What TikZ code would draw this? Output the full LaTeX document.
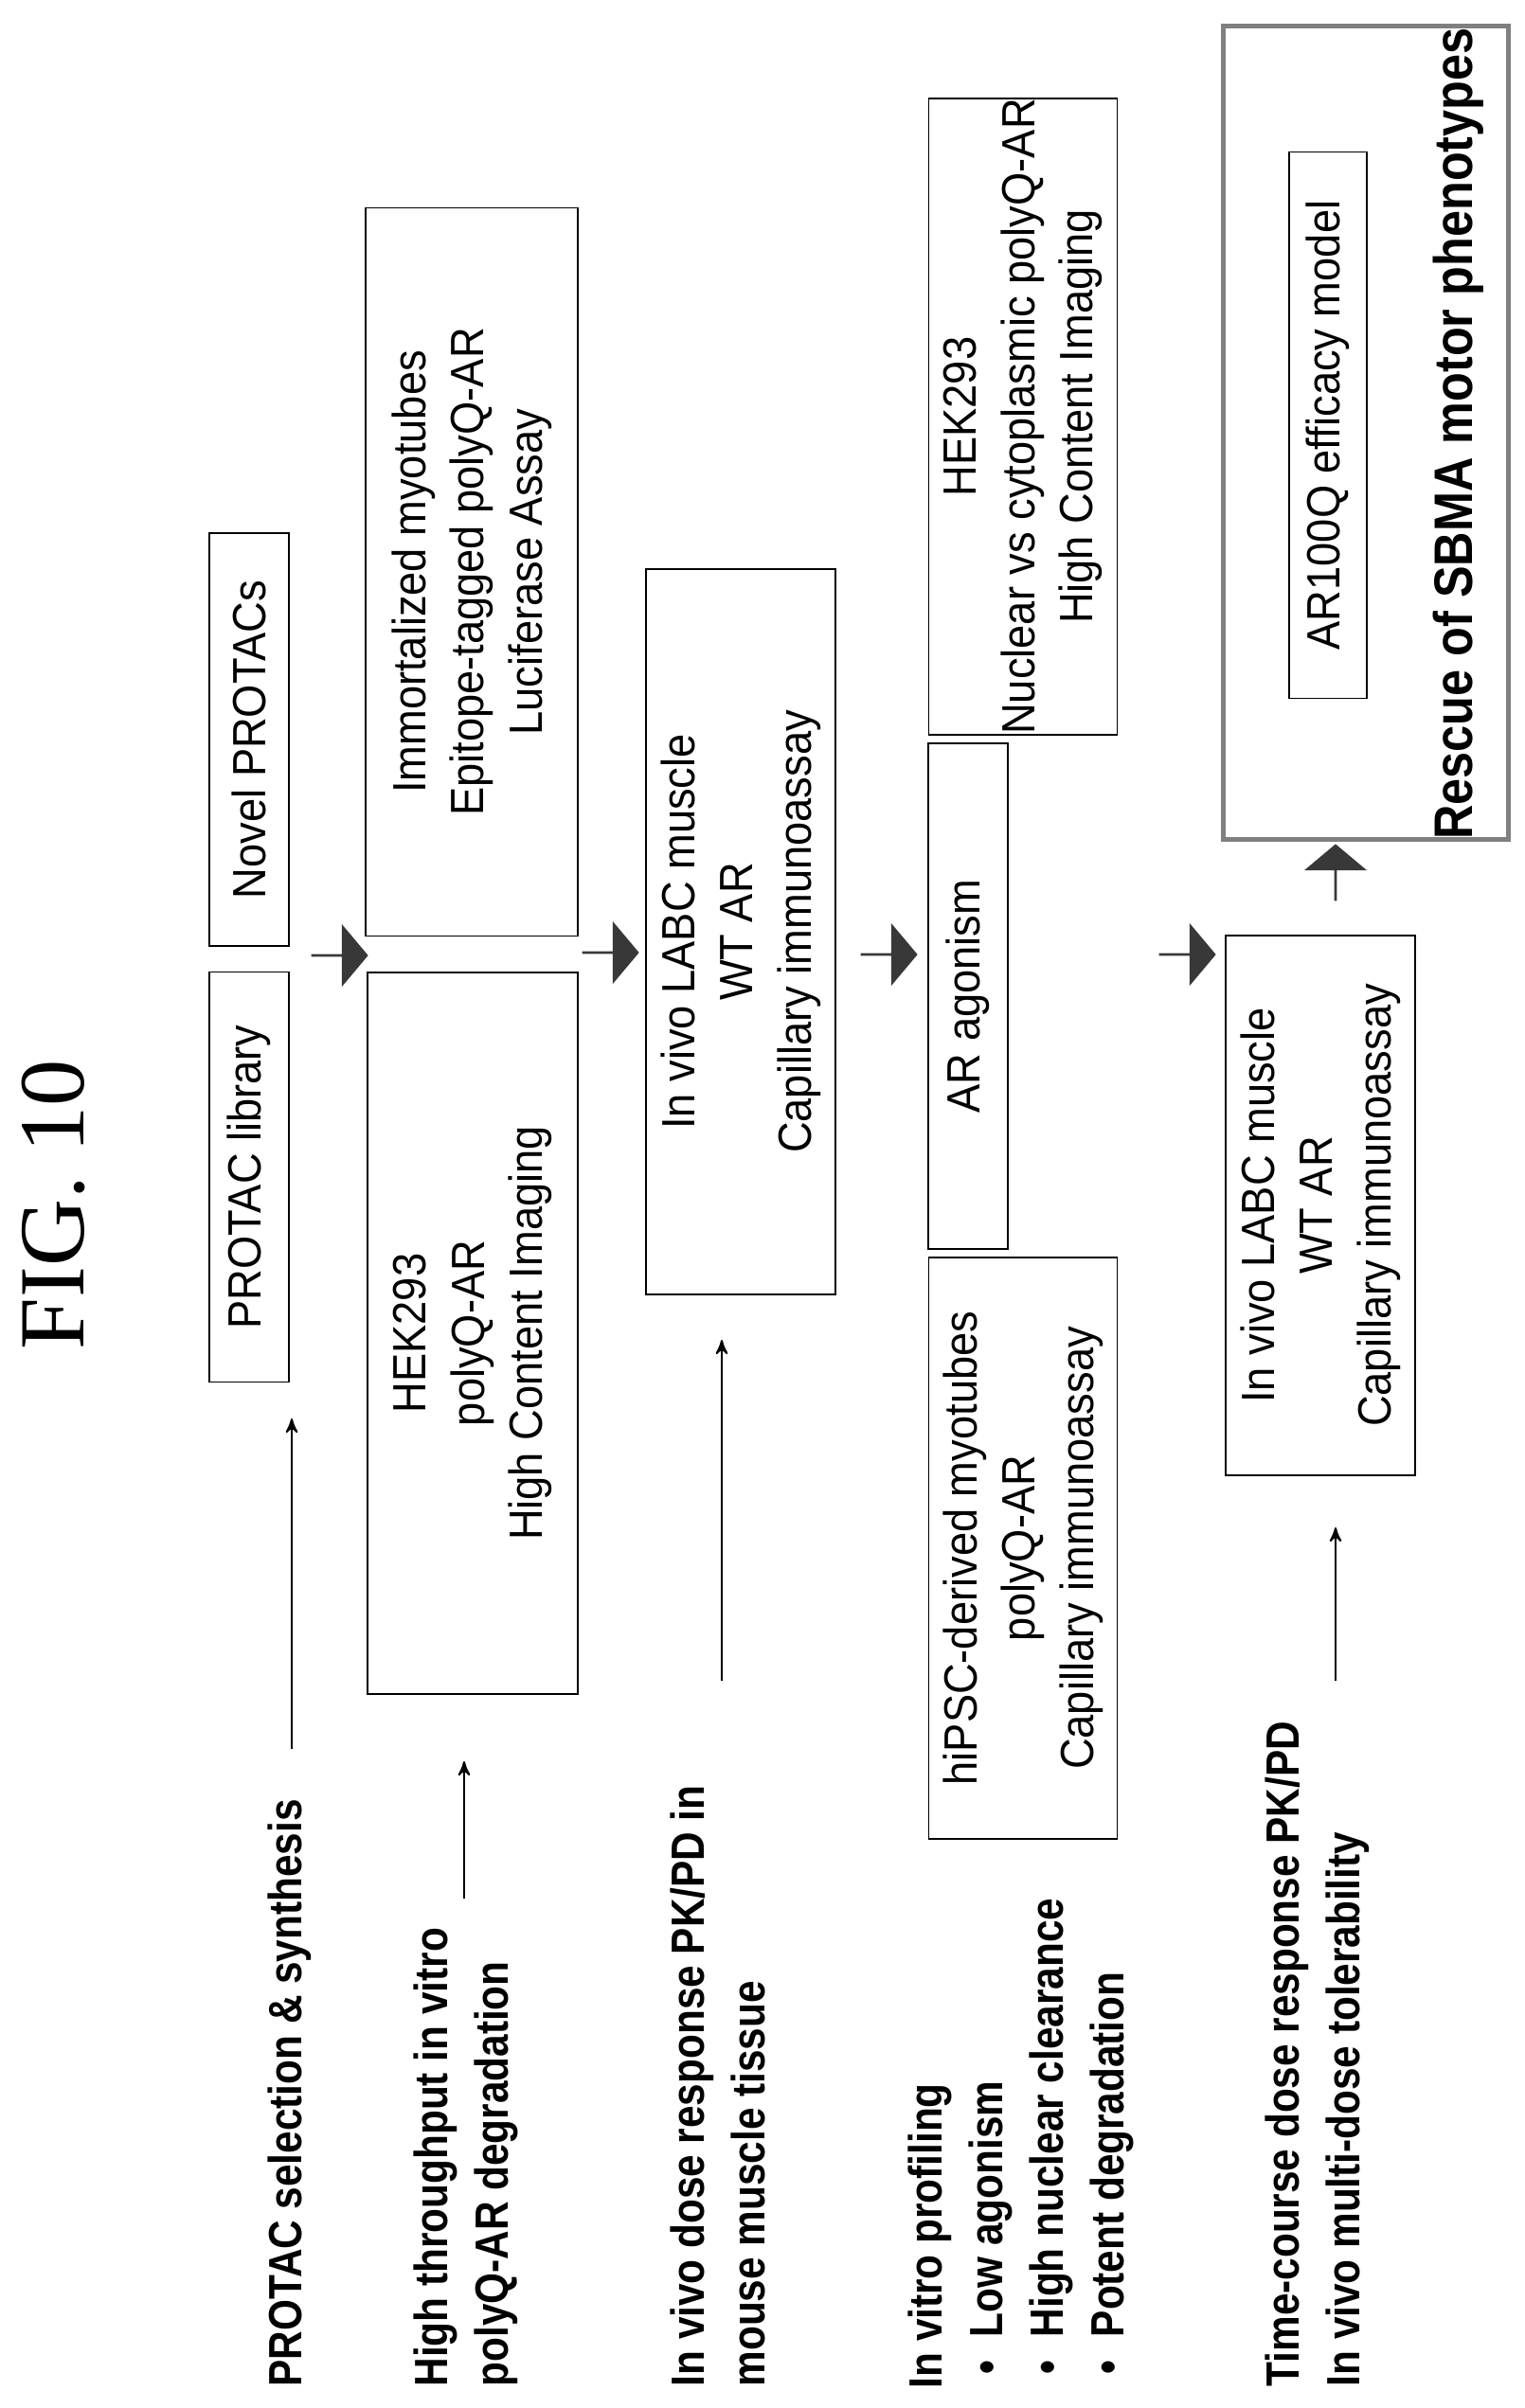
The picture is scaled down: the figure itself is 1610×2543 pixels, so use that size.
\documentclass[tikz,border=0pt]{standalone}
\usepackage{fontspec}
\setmainfont{Liberation Sans}
\newfontfamily\boxfont[FakeStretch=0.92]{Liberation Sans}
\newfontfamily\labfont[FakeStretch=0.86]{Liberation Sans}
\newfontfamily\goalfont[FakeStretch=0.88]{Liberation Sans}
\newfontfamily\figfont{Liberation Serif}
\usetikzlibrary{shapes.arrows, arrows}
\tikzset{x=0.1mm, y=-0.1mm,
  stepbox/.style={draw, rotate=90, align=center, inner sep=0pt, line width=0.5pt,
    font=\boxfont\fontsize{14pt}{17.5pt}\selectfont},
  stage/.style={rotate=90, anchor=west, align=left, inner sep=0pt,
    font=\labfont\bfseries\fontsize{14pt}{18.2pt}\selectfont},
  fat/.style={single arrow, fill=black!78, inner sep=0pt, minimum width=6.6mm,
    single arrow head extend=1.5mm, single arrow tip angle=100, minimum height=6mm},
  thinarrow/.style={->, >=stealth', line width=0.6pt}}

\begin{document}
\begin{tikzpicture}
\useasboundingbox (0,0) rectangle (1610,2543);
\node[rotate=90, font=\figfont\fontsize{28pt}{30pt}\selectfont] (fig) at (56,1272) {FIG. 10};
% stage labels
\node[stage] (lab1) at (306,2521) {PROTAC selection \& synthesis};
\node[stage] (lab2) at (492,2521) {High throughput in vitro\\polyQ-AR degradation};
\node[stage] (lab3) at (758,2521) {In vivo dose response PK/PD in\\mouse muscle tissue};
\node[stage] (lab4) at (1078,2523) {In vitro profiling\\
  \hspace{0.3em}\textbullet\hspace{0.5em}Low agonism\\
  \hspace{0.3em}\textbullet\hspace{0.5em}High nuclear clearance\\
  \hspace{0.3em}\textbullet\hspace{0.5em}Potent degradation};
\node[stage] (lab5) at (1391,2521) {Time-course dose response PK/PD\\In vivo multi-dose tolerability};
% boxes
\node[stepbox, minimum width=43.3mm, minimum height=8.4mm] (lib) at (263,1243) {PROTAC library};
\node[stepbox, minimum width=43.6mm, minimum height=8.4mm] (novel) at (263,781) {Novel PROTACs};
\node[stepbox, minimum width=76.2mm, minimum height=22.2mm] (hek) at (499,1408) {HEK293\\polyQ-AR\\High Content Imaging};
\node[stepbox, minimum width=76.9mm, minimum height=22.4mm] (myo) at (498,604) {Immortalized myotubes\\Epitope-tagged polyQ-AR\\Luciferase Assay};
\node[stepbox, minimum width=76.6mm, minimum height=20mm] (labc) at (782,984) {In vivo LABC muscle\\WT AR\\Capillary immunoassay};
\node[stepbox, minimum width=66.9mm, minimum height=19.9mm] (nuc) at (1080,440) {HEK293\\Nuclear vs cytoplasmic polyQ-AR\\High Content Imaging};
\node[stepbox, minimum width=53.4mm, minimum height=8.4mm] (agon) at (1022,1052) {AR agonism};
\node[stepbox, minimum width=61.4mm, minimum height=19.9mm] (hipsc) at (1080,1635) {hiPSC-derived myotubes\\polyQ-AR\\Capillary immunoassay};
\node[stepbox, minimum width=57mm, minimum height=20mm] (labcb) at (1394,1273) {In vivo LABC muscle\\WT AR\\Capillary immunoassay};
\node[stepbox, draw=black!50, line width=1.6pt, minimum width=85.9mm, minimum height=30.1mm] (rescue) at (1442,457) {};
\node[stepbox, minimum width=57.7mm, minimum height=8.2mm] (model) at (1402,449) {AR100Q efficacy model};
\node[rotate=90, inner sep=0pt, font=\goalfont\bfseries\fontsize{16.3pt}{18pt}\selectfont] (goal) at (1540,458) {Rescue of SBMA motor phenotypes};
% block arrows
\node[fat] (fa1) at (358,1009) {};
\node[fat] (fa2) at (644,1006) {};
\node[fat] (fa3) at (938,1008) {};
\node[fat] (fa4) at (1253,1008) {};
\node[fat, shape border rotate=90] (fa5) at (1410,922) {};
% thin arrows
\coordinate (t1) at (308,1847); \coordinate (h1) at (308,1498);
\coordinate (t2) at (490,2005); \coordinate (h2) at (490,1860);
\coordinate (t3) at (762,1775); \coordinate (h3) at (762,1415);
\coordinate (t4) at (1410,1775); \coordinate (h4) at (1410,1613);
\draw[thinarrow] (t1) -- (h1);
\draw[thinarrow] (t2) -- (h2);
\draw[thinarrow] (t3) -- (h3);
\draw[thinarrow] (t4) -- (h4);
\end{tikzpicture}
\end{document}
